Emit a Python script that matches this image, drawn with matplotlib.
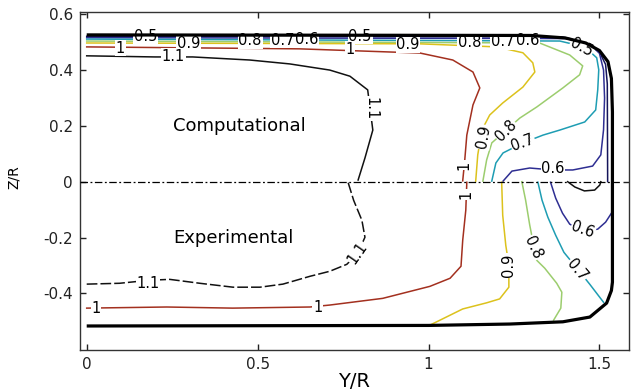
import matplotlib
matplotlib.use('Agg')
import matplotlib.pyplot as plt

# contour lines, Y/R and Z/R
# computational half (Z > 0)
comp_05_y = [0, 1.39, 1.46, 1.50, 1.518, 1.523, 1.524]
comp_05_z = [0.521, 0.519, 0.50, 0.465, 0.42, 0.35, 0.0]
comp_06_y = [0, 1.40, 1.47, 1.50, 1.512, 1.515, 1.512, 1.504, 1.48, 1.422, 1.364, 1.296, 1.244, 1.218]
comp_06_z = [0.516, 0.513, 0.495, 0.46, 0.40, 0.30, 0.186, 0.096, 0.056, 0.042, 0.042, 0.049, 0.038, 0.002]
comp_07_y = [0, 1.384, 1.457, 1.492, 1.498, 1.495, 1.489, 1.457, 1.384, 1.335, 1.276, 1.218, 1.197, 1.185]
comp_07_z = [0.511, 0.504, 0.483, 0.444, 0.401, 0.329, 0.257, 0.214, 0.185, 0.167, 0.139, 0.103, 0.067, 0.002]
comp_08_y = [0, 1.325, 1.413, 1.451, 1.442, 1.393, 1.317, 1.267, 1.185, 1.17, 1.159]
comp_08_z = [0.504, 0.497, 0.454, 0.415, 0.383, 0.336, 0.268, 0.228, 0.139, 0.078, 0.002]
comp_09_y = [0, 0.974, 1.2, 1.276, 1.305, 1.311, 1.276, 1.217, 1.179, 1.156, 1.144, 1.138]
comp_09_z = [0.497, 0.494, 0.483, 0.462, 0.426, 0.393, 0.339, 0.282, 0.239, 0.185, 0.096, 0.002]
comp_10_y = [0, 0.623, 0.975, 1.071, 1.13, 1.15, 1.13, 1.112, 1.106, 1.1]
comp_10_z = [0.483, 0.476, 0.461, 0.436, 0.393, 0.336, 0.275, 0.167, 0.078, 0.003]
comp_11_y = [0, 0.20, 0.31, 0.477, 0.594, 0.711, 0.77, 0.822, 0.837, 0.814, 0.794]
comp_11_z = [0.451, 0.447, 0.447, 0.436, 0.422, 0.400, 0.378, 0.329, 0.185, 0.085, 0.006]

# experimental half (Z < 0)
exp_05_y = [1.407, 1.428, 1.456, 1.486, 1.501, 1.504]
exp_05_z = [0, -0.019, -0.033, -0.03, -0.012, 0]
exp_06_y = [1.357, 1.372, 1.392, 1.413, 1.451, 1.495, 1.518, 1.535]
exp_06_z = [-0.002, -0.059, -0.113, -0.152, -0.177, -0.17, -0.145, -0.113]
exp_07_y = [1.32, 1.332, 1.349, 1.372, 1.396, 1.434, 1.472, 1.512]
exp_07_z = [-0.002, -0.066, -0.127, -0.192, -0.253, -0.31, -0.368, -0.432]
exp_08_y = [1.273, 1.284, 1.296, 1.316, 1.34, 1.375, 1.39, 1.387, 1.366]
exp_08_z = [0.0, -0.066, -0.155, -0.281, -0.31, -0.364, -0.396, -0.453, -0.496]
exp_09_y = [1.004, 1.1, 1.17, 1.208, 1.235, 1.235, 1.226, 1.217, 1.214]
exp_09_z = [-0.514, -0.456, -0.434, -0.42, -0.378, -0.299, -0.228, -0.12, -0.002]
exp_09b_y = [0.77, 0.84]
exp_09b_z = [-0.512, -0.512]
exp_10_y = [0, 0.234, 0.427, 0.653, 0.711, 0.866, 1.004, 1.063, 1.095, 1.1, 1.109, 1.112]
exp_10_z = [-0.453, -0.449, -0.453, -0.449, -0.442, -0.418, -0.375, -0.346, -0.303, -0.21, -0.102, -0.002]
exp_11_y = [0, 0.096, 0.184, 0.243, 0.331, 0.428, 0.507, 0.574, 0.653, 0.711, 0.761, 0.793, 0.814, 0.805, 0.781, 0.764]
exp_11_z = [-0.367, -0.364, -0.353, -0.35, -0.364, -0.378, -0.378, -0.367, -0.339, -0.321, -0.296, -0.256, -0.199, -0.138, -0.067, 0]

# duct wall
wall_y = [0, 1.30, 1.40, 1.46, 1.50, 1.525, 1.535, 1.538, 1.538, 1.535, 1.521, 1.472, 1.393, 1.238, 1.0, 0]
wall_z = [0.526, 0.524, 0.515, 0.497, 0.47, 0.43, 0.37, 0.25, -0.36, -0.39, -0.435, -0.485, -0.502, -0.51, -0.515, -0.517]

xticks = [0, 0.5, 1, 1.5]
xticklabels = ['0', '0.5', '1', '1.5']
yticks = [-0.4, -0.2, 0, 0.2, 0.4, 0.6]
yticklabels = ['-0.4', '-0.2', '0', '0.2', '0.4', '0.6']

col = {0.5: '#14145a', 0.6: '#2e2e92', 0.7: '#1e9db3', 0.8: '#9ccd6e',
       0.9: '#dcc21c', 1.0: '#a3301f', 1.1: '#111111'}

fig = plt.figure(figsize=(6.32, 3.90), dpi=100)
ax = fig.add_axes([0.1266, 0.1026, 0.8684, 0.8666])

lw = 1.1
ax.plot(comp_05_y, comp_05_z, color=col[0.5], lw=lw)
ax.plot(comp_06_y, comp_06_z, color=col[0.6], lw=lw)
ax.plot(comp_07_y, comp_07_z, color=col[0.7], lw=lw)
ax.plot(comp_08_y, comp_08_z, color=col[0.8], lw=lw)
ax.plot(comp_09_y, comp_09_z, color=col[0.9], lw=lw)
ax.plot(comp_10_y, comp_10_z, color=col[1.0], lw=lw)
ax.plot(comp_11_y, comp_11_z, color=col[1.1], lw=lw)

ax.plot(exp_05_y, exp_05_z, color=col[1.1], lw=lw)
ax.plot(exp_06_y, exp_06_z, color=col[0.6], lw=lw)
ax.plot(exp_07_y, exp_07_z, color=col[0.7], lw=lw)
ax.plot(exp_08_y, exp_08_z, color=col[0.8], lw=lw)
ax.plot(exp_09_y, exp_09_z, color=col[0.9], lw=lw)
ax.plot(exp_09b_y, exp_09b_z, color=col[0.9], lw=lw, ls=(0, (3, 2)))
ax.plot(exp_10_y, exp_10_z, color=col[1.0], lw=lw)
ax.plot(exp_11_y, exp_11_z, color=col[1.1], lw=lw, ls=(0, (7, 2)))

# contour labels (clabel style, placed by hand)
labels = [
    ('0.5', 0.172, 0.521, 0), ('0.5', 0.80, 0.522, 0), ('0.5', 1.448, 0.481, -28),
    ('1', 0.098, 0.479, 0), ('1', 0.77, 0.474, 0),
    ('0.9', 0.297, 0.494, 0), ('0.9', 0.94, 0.490, 0),
    ('1.1', 0.253, 0.448, 0),
    ('0.8', 0.478, 0.505, 0), ('0.7', 0.574, 0.507, 0), ('0.6', 0.644, 0.509, 0),
    ('0.8', 1.121, 0.499, 0), ('0.7', 1.217, 0.503, 0), ('0.6', 1.29, 0.505, 0),
    ('1.1', 0.832, 0.262, -90),
    ('0.9', 1.16, 0.16, 80),
    ('0.8', 1.226, 0.184, 45),
    ('0.7', 1.276, 0.139, 20),
    ('0.6', 1.364, 0.046, 0),
    ('1', 1.103, 0.06, 90),
    ('1.1', 0.179, -0.364, 0),
    ('1.1', 0.793, -0.256, 55),
    ('1', 0.027, -0.455, 0),
    ('1', 0.676, -0.449, 0),
    ('1', 1.11, -0.045, 90),
    ('0.9', 1.235, -0.299, 90),
    ('0.8', 1.305, -0.238, -65),
    ('0.7', 1.434, -0.317, -50),
    ('0.6', 1.451, -0.174, -20),
]
for s, x, y, r in labels:
    ax.text(x, y, s, rotation=r, ha='center', va='center', fontsize=10.5,
            rotation_mode='anchor', zorder=3,
            bbox=dict(boxstyle='square,pad=0.05', fc='white', ec='none'))

ax.plot(wall_y, wall_z, color='black', lw=2.3, zorder=4, solid_capstyle='butt')
ax.plot([-0.02, 1.56], [0, 0], color='black', lw=0.9, ls='-.', dashes=(6, 2, 1.5, 2), zorder=4)

ax.text(0.252, 0.2, 'Computational', fontsize=13, ha='left', va='center')
ax.text(0.252, -0.2, 'Experimental', fontsize=13, ha='left', va='center')

ax.set_xlim(-0.0196, 1.586)
ax.set_ylim(-0.603, 0.608)
ax.set_xticks(xticks)
ax.set_xticklabels(xticklabels)
ax.set_yticks(yticks)
ax.set_yticklabels(yticklabels)
ax.tick_params(direction='in', top=True, right=True, length=4, width=1,
               labelsize=11, pad=5, colors='#222222')
for sp in ax.spines.values():
    sp.set_linewidth(1.0)
    sp.set_color('#333333')

ax.set_xlabel('Y/R', fontsize=14)
ax.xaxis.set_label_coords(0.5, -0.065)
ax.set_ylabel('Z/R', fontsize=10)
ax.yaxis.set_label_coords(-0.108, 0.512)

fig.savefig('out.png', dpi=100)
